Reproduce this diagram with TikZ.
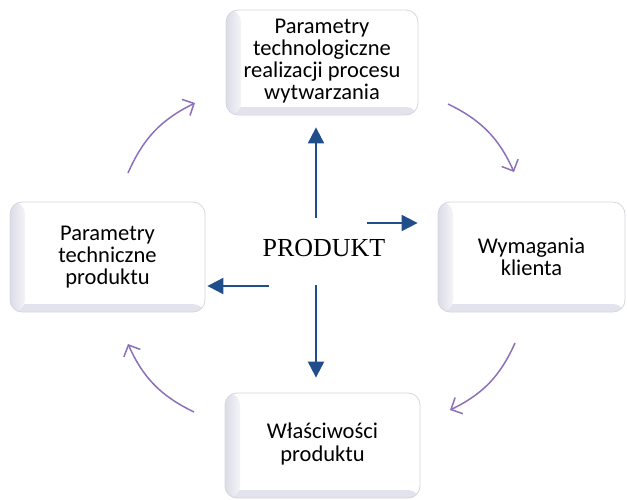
\documentclass[tikz,border=0pt]{standalone}
\usepackage{fontspec}
\setmainfont{Carlito}
\newfontfamily\timesfont{Liberation Serif}
\usetikzlibrary{arrows.meta,calc}

\definecolor{flowblue}{RGB}{31,78,138}
\definecolor{cyclepurple}{RGB}{140,112,186}
\definecolor{boxedge}{RGB}{214,214,224}
\definecolor{bevel}{RGB}{220,220,232}

% soft bevel along the left and bottom edges of the cards
\pgfdeclarehorizontalshading{leftbevel}{100bp}{%
  color(0bp)=(bevel!60); color(25bp)=(bevel); color(100bp)=(white)}
\pgfdeclareverticalshading{bottombevel}{100bp}{%
  color(0bp)=(bevel!70); color(30bp)=(bevel!80); color(100bp)=(white)}

\tikzset{
  x=1pt, y=-1pt,
  cardbox/.style={
    draw=boxedge, line width=0.8pt, fill=white, rounded corners=12pt,
    align=center, inner sep=0pt,
    font=\fontsize{22.5}{21.7}\selectfont,
    path picture={
      \shade[shading=bottombevel]
        (path picture bounding box.south west) rectangle
        ([yshift=8pt]path picture bounding box.south east);
      \shade[shading=leftbevel]
        (path picture bounding box.south west) rectangle
        ([xshift=15pt]path picture bounding box.north west);
    }
  },
  flow/.style={draw=flowblue, line width=2pt,
    -{Triangle[width=16pt,length=16pt]}},
  cycle/.style={draw=cyclepurple, line width=1.5pt,
    -{Straight Barb[length=9pt,width=18pt,line width=1.5pt]}}
}

\begin{document}
\begin{tikzpicture}
\useasboundingbox (0,0) rectangle (627,499);

% the four surrounding cards
\node[cardbox, minimum width=192pt, minimum height=105pt] (tech) at (322,62.5)
  {\raisebox{-3pt}{\begin{tabular}{@{}c@{}}Parametry\\technologiczne\\realizacji procesu\\wytwarzania\end{tabular}}};
\node[cardbox, minimum width=187pt, minimum height=110pt] (klient) at (531.5,257)
  {Wymagania\\klienta};
\node[cardbox, minimum width=195pt, minimum height=110pt] (param) at (107.5,257)
  {Parametry\\techniczne\\produktu};
\node[cardbox, minimum width=195pt, minimum height=105pt] (wlasc) at (322.5,445.5)
  {\raisebox{-5pt}{\begin{tabular}{@{}c@{}}Właściwości\\produktu\end{tabular}}};

% centre
\node[font=\timesfont\fontsize{26}{30}\selectfont, inner sep=0pt] (prod) at (324,248) {PRODUKT};

% starting points of the blue arrows around the centre
\coordinate (pu) at (316,218);
\coordinate (pr) at (367,223);
\coordinate (pl) at (269,286);
\coordinate (pd) at (316,285);

\draw[flow, shorten >=12pt] (pu) -- (tech.south -| pu);
\draw[flow, shorten >=20pt] (pr) -- (klient.west |- pr);
\draw[flow, shorten >=2pt]  (pl) -- (param.east |- pl);
\draw[flow, shorten >=15pt] (pd) -- (wlasc.north -| pd);

% purple cycle arcs
\coordinate (a1s) at (128,173); \coordinate (a1e) at (195,103);
\coordinate (a2s) at (448,104); \coordinate (a2e) at (514,172);
\coordinate (a3s) at (515,343); \coordinate (a3e) at (450,410);
\coordinate (a4s) at (194,412); \coordinate (a4e) at (128,344);

\draw[cycle] (a1s) to[bend left=20] (a1e);
\draw[cycle] (a2s) to[bend left=20] (a2e);
\draw[cycle] (a3s) to[bend left=20] (a3e);
\draw[cycle] (a4s) to[bend left=20] (a4e);
\end{tikzpicture}
\end{document}
